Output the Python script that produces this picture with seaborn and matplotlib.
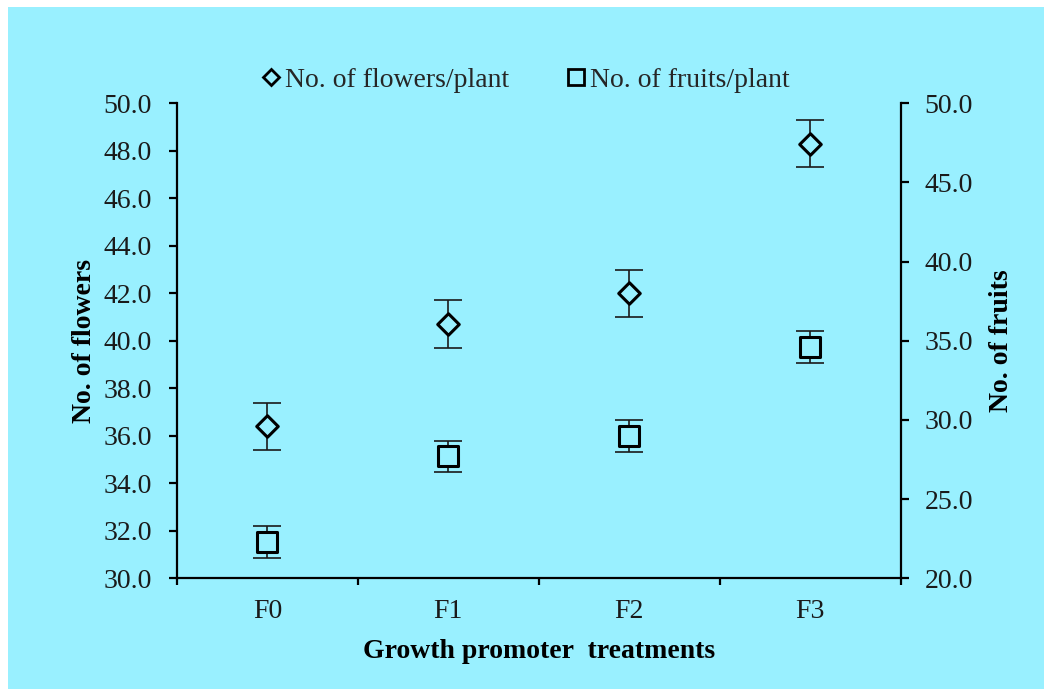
import matplotlib
matplotlib.use('Agg')
import matplotlib.pyplot as plt
import seaborn as sns
import pandas as pd
from matplotlib.lines import Line2D
from matplotlib.patches import Rectangle
from matplotlib.ticker import FixedLocator, MultipleLocator, FormatStrFormatter

# ---- data ----
treatments = ['F0', 'F1', 'F2', 'F3']
flowers = [36.4, 40.7, 42.0, 48.3]
flowers_err = [1.0, 1.0, 1.0, 1.0]
fruits = [22.3, 27.7, 29.0, 34.6]
fruits_err = [1.0, 1.0, 1.0, 1.0]

df = pd.DataFrame({'treatment': treatments, 'flowers': flowers,
                   'fruits': fruits})

BG = '#99F0FF'
sns.set_theme(style='ticks')
plt.rcParams['font.family'] = ['Liberation Serif', 'DejaVu Serif']

fig = plt.figure(figsize=(10.44, 6.89), dpi=100, facecolor='white')
fig.patches.append(Rectangle((8 / 1044, 0), 1 - 8 / 1044, 1 - 7 / 689,
                             transform=fig.transFigure, facecolor=BG,
                             edgecolor='none', zorder=-10))

W, H = 1044, 689
left, right, top, bottom = 177, 900.7, 103.3, 578.3
ax = fig.add_axes([left / W, 1 - bottom / H, (right - left) / W, (bottom - top) / H])
ax.patch.set_alpha(0)
ax2 = ax.twinx()
ax2.patch.set_alpha(0)

# flowers (left axis)
ax.errorbar(df['treatment'], df['flowers'], yerr=flowers_err, fmt='none',
            ecolor='#1a1a1a', elinewidth=1.2, capsize=10, capthick=1.2, zorder=2)
sns.scatterplot(data=df, x='treatment', y='flowers', marker='D', s=120,
                facecolor=BG, edgecolor='black', linewidth=2.2, ax=ax,
                zorder=3, legend=False)

# fruits (right axis)
ax2.errorbar(df['treatment'], df['fruits'], yerr=fruits_err, fmt='none',
             ecolor='#1a1a1a', elinewidth=1.2, capsize=10, capthick=1.2, zorder=2)
sns.scatterplot(data=df, x='treatment', y='fruits', marker='s', s=190,
                facecolor=BG, edgecolor='black', linewidth=2.2, ax=ax2,
                zorder=3, legend=False)

ax.set_xlim(-0.5, 3.5)
ax.set_ylim(30, 50)
ax2.set_ylim(20, 50)
ax.yaxis.set_major_locator(MultipleLocator(2))
ax.yaxis.set_major_formatter(FormatStrFormatter('%.1f'))
ax2.yaxis.set_major_locator(MultipleLocator(5))
ax2.yaxis.set_major_formatter(FormatStrFormatter('%.1f'))
ax.xaxis.set_minor_locator(FixedLocator([-0.5, 0.5, 1.5, 2.5, 3.5]))

fs = 20
lw = 1.6
for a in (ax, ax2):
    for s in a.spines.values():
        s.set_linewidth(lw)
        s.set_color('black')
    a.spines['top'].set_visible(False)
ax.spines['right'].set_visible(False)
ax2.spines['left'].set_visible(False)
ax2.spines['bottom'].set_visible(False)

ax.tick_params(axis='y', direction='out', length=6, width=lw, pad=12,
               labelsize=fs, colors='black', labelcolor='#1a1a1a')
ax2.tick_params(axis='y', direction='out', length=6, width=lw, pad=11,
                labelsize=fs, colors='black', labelcolor='#1a1a1a')
ax.tick_params(axis='x', which='major', length=0, pad=15, labelsize=fs,
               labelcolor='#1a1a1a')
ax.tick_params(axis='x', which='minor', direction='out', length=5, width=lw,
               color='black')

ax.set_xlabel('Growth promoter  treatments', fontsize=fs, fontweight='bold',
              color='black')
ax.set_ylabel('No. of flowers', fontsize=fs, fontweight='bold', color='black')
ax2.set_ylabel('No. of fruits', fontsize=fs, fontweight='bold', color='black')
ax.xaxis.set_label_coords(0.5, -0.128)
ax.yaxis.set_label_coords(-0.11, 0.5)
ax2.yaxis.set_label_coords(1.122, 0.5)
ax.grid(False)
ax2.grid(False)

handles = [
    Line2D([], [], linestyle='none', marker='D', markersize=8.5,
           markerfacecolor=BG, markeredgecolor='black', markeredgewidth=2),
    Line2D([], [], linestyle='none', marker='s', markersize=12,
           markerfacecolor=BG, markeredgecolor='black', markeredgewidth=2),
]
fig.legend(handles, ['No. of flowers/plant', 'No. of fruits/plant'],
           loc='center', bbox_to_anchor=(525 / W, 1 - 80 / H), ncol=2,
           frameon=False, fontsize=fs, handlelength=0.8, handletextpad=0.1,
           columnspacing=2.0, borderaxespad=0)

fig.savefig('out.png', dpi=100, facecolor='white')
